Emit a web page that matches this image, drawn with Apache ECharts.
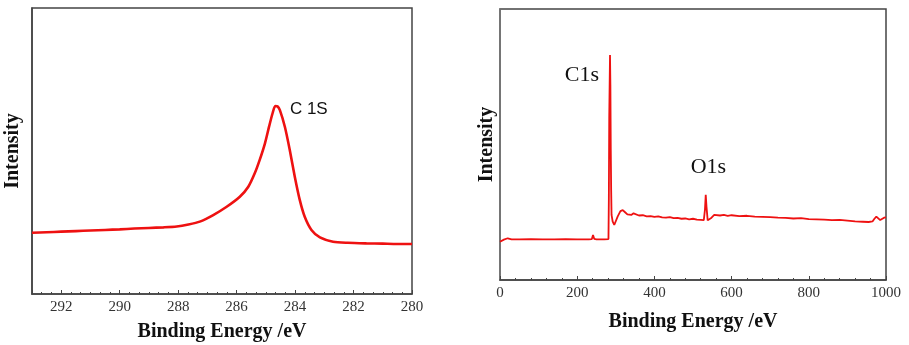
<!DOCTYPE html>
<html>
<head>
<meta charset="utf-8">
<script src="https://cdn.jsdelivr.net/npm/echarts@6/dist/echarts.min.js"></script>
<style>html,body{margin:0;padding:0;background:#fff;}#c{width:909px;height:345px;}</style>
</head>
<body>
<div id="c"></div>
<script>
// High-resolution C 1s spectrum (binding energy eV, intensity a.u.)
const c1sEnergy = [293.0,292.5,292.0,291.5,291.0,290.5,290.0,289.5,289.0,288.5,288.05,287.65,287.26,286.8,286.34,285.89,285.6,285.38,285.21,285.03,284.89,284.77,284.68,284.6,284.52,284.35,284.18,284.01,283.84,283.67,283.44,283.15,282.7,282.2,281.56,281.0,280.5,280.0];
const c1sIntensity = [21.4,21.6,21.8,22.0,22.2,22.4,22.6,22.9,23.1,23.3,23.6,24.3,25.3,27.6,30.5,34.0,37.5,42.2,46.9,52.7,58.5,63.2,65.7,65.6,64.3,58.5,50.3,41.0,32.9,27.0,22.4,19.8,18.3,17.9,17.7,17.6,17.5,17.5];

// Survey spectrum
const surveyEnergy = [0,5,10,15,20,25,30,50,80,110,140,170,200,230,238,241,244,250,270,281,282,283,285,286,287,288,289,292,296,300,305,312,318,324,330,340,346,350,360,370,380,390,400,410,420,430,440,450,460,470,480,490,500,510,520,528,531,533,535,538,542,548,555,560,570,580,590,600,620,640,660,680,700,720,740,760,780,800,820,840,860,880,900,920,940,955,965,970,975,980,985,990,995,1000];
const surveyIntensity = [14.1,14.5,14.9,15.2,15.4,15.3,15.0,15.0,15.1,15.0,15.0,15.1,15.0,15.0,15.1,16.6,15.2,15.0,15.0,15.1,30.0,60.0,83.0,72.0,48.0,33.0,24.0,21.5,20.3,21.0,23.5,25.4,25.8,25.0,24.2,24.0,24.6,24.2,23.8,23.9,23.5,23.6,23.3,23.5,23.1,23.0,23.2,22.8,22.9,22.6,22.7,22.4,22.6,22.3,22.2,22.1,26.0,31.4,27.0,22.0,21.8,23.0,24.0,24.2,23.8,24.0,23.7,23.9,23.6,23.7,23.4,23.3,23.2,23.0,22.9,22.7,22.8,22.5,22.4,22.3,22.1,22.2,21.9,21.6,21.5,21.4,21.6,22.6,23.4,22.8,22.1,22.5,23.0,23.1];

const leftTicks = [280,282,284,286,288,290,292];
const rightTicks = [0,200,400,600,800,1000];

const zip = (a,b) => a.map((v,i)=>[v,b[i]]);
const serif = '"Liberation Serif","Times New Roman",serif';
const axisCol = '#444';
const red = '#ee1111';

const chart = echarts.init(document.getElementById('c'), null, {renderer:'canvas'});
chart.setOption({
  backgroundColor:'#fff',
  animation:false,
  grid:[
    {left:32, top:8, width:380, height:286, containLabel:false, outerBoundsMode:'none', show:true, borderColor:axisCol, borderWidth:1.5, backgroundColor:'transparent'},
    {left:500, top:9, width:386, height:271, containLabel:false, outerBoundsMode:'none', show:true, borderColor:axisCol, borderWidth:1.5, backgroundColor:'transparent'}
  ],
  xAxis:[
    {gridIndex:0, type:'value', min:280, max:293, interval:2, inverse:true,
     axisLine:{show:true, lineStyle:{color:axisCol, width:1.5}},
     axisTick:{show:true, inside:true, length:4, lineStyle:{color:axisCol}},
     minorTick:{show:true, splitNumber:6, length:2, lineStyle:{color:axisCol}},
     splitLine:{show:false},
     axisLabel:{show:true, margin:6, fontFamily:serif, fontSize:15, color:'#333', showMaxLabel:false,
       formatter:v=>leftTicks.includes(v)?String(v):''},
     name:'Binding Energy /eV', nameLocation:'middle', nameGap:28,
     nameTextStyle:{fontFamily:serif, fontWeight:'bold', fontSize:20, color:'#111'}},
    {gridIndex:1, type:'value', min:0, max:1000, interval:200,
     axisLine:{show:true, lineStyle:{color:axisCol, width:1.5}},
     axisTick:{show:true, inside:true, length:4, lineStyle:{color:axisCol}},
     minorTick:{show:true, splitNumber:5, length:2, lineStyle:{color:axisCol}},
     splitLine:{show:false},
     axisLabel:{show:true, margin:6, fontFamily:serif, fontSize:15, color:'#333',
       formatter:v=>rightTicks.includes(v)?String(v):''},
     name:'Binding Energy /eV', nameLocation:'middle', nameGap:32,
     nameTextStyle:{fontFamily:serif, fontWeight:'bold', fontSize:20, color:'#111'}}
  ],
  yAxis:[
    {gridIndex:0, type:'value', min:0, max:100,
     axisLine:{show:true, lineStyle:{color:axisCol, width:1.5}}, axisTick:{show:false}, axisLabel:{show:false}, splitLine:{show:false},
     name:'Intensity', nameLocation:'middle', nameGap:9, nameRotate:90,
     nameTextStyle:{fontFamily:serif, fontWeight:'bold', fontSize:20, color:'#111'}},
    {gridIndex:1, type:'value', min:0, max:100,
     axisLine:{show:true, lineStyle:{color:'#777', width:1.5}}, axisTick:{show:false}, axisLabel:{show:false}, splitLine:{show:false},
     name:'Intensity', nameLocation:'middle', nameGap:3, nameRotate:90,
     nameTextStyle:{fontFamily:serif, fontWeight:'bold', fontSize:20, color:'#111'}}
  ],
  series:[
    {type:'line', xAxisIndex:0, yAxisIndex:0, data:zip(c1sEnergy,c1sIntensity), showSymbol:false, smooth:0.25,
     lineStyle:{color:red, width:2.6},
     markPoint:{symbol:'circle', symbolSize:0, silent:true,
       data:[{coord:[283.53,64.7], label:{show:true, position:'inside', formatter:'C 1S', fontFamily:'"Liberation Sans",Arial,sans-serif', fontSize:17, color:'#111'}}]}},
    {type:'line', xAxisIndex:1, yAxisIndex:1, data:zip(surveyEnergy,surveyIntensity), showSymbol:false,
     lineStyle:{color:red, width:1.8},
     markPoint:{symbol:'circle', symbolSize:0, silent:true,
       data:[
         {coord:[212.4,75.6], label:{show:true, position:'inside', formatter:'C1s', fontFamily:serif, fontSize:22, color:'#111'}},
         {coord:[540,41.7], label:{show:true, position:'inside', formatter:'O1s', fontFamily:serif, fontSize:22, color:'#111'}}
       ]}}
  ]
});
</script>
</body>
</html>
